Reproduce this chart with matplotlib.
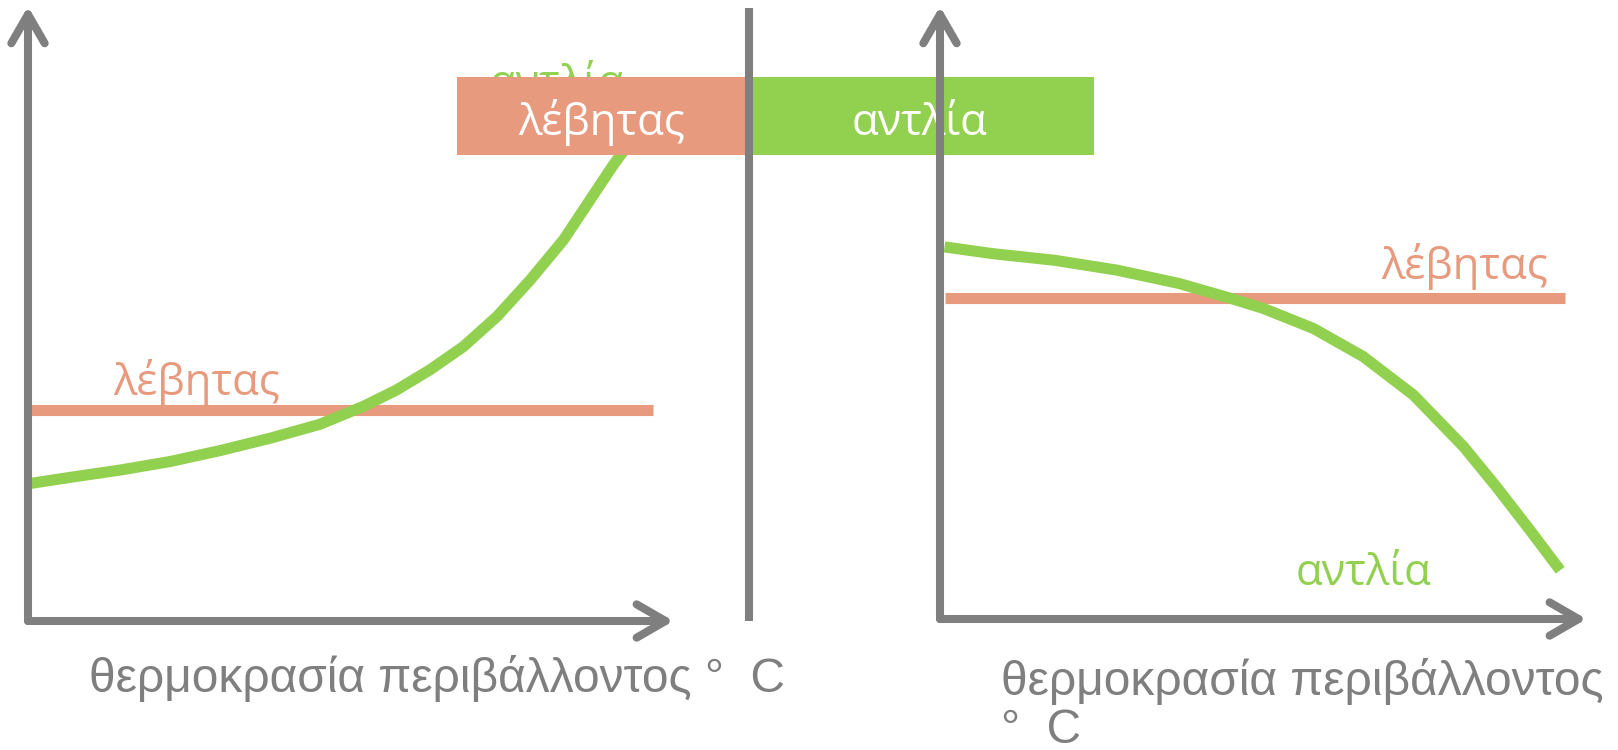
import matplotlib
matplotlib.use("Agg")
import matplotlib.pyplot as plt
from matplotlib.patches import Rectangle

# цвета
GRAY = "#7f7f7f"
ORANGE = "#e89a7e"
GREEN = "#92d050"

# левая панель: котёл постоянен, насос дорожает с температурой
left_x = [0.03, 0.65, 1.43, 2.21, 2.99, 3.76, 4.54, 5.21, 5.73, 6.25, 6.77, 7.29, 7.81,
          8.33, 8.74, 9.10, 9.31, 9.45]
left_pump = [2.25, 2.35, 2.47, 2.61, 2.79, 2.99, 3.22, 3.51, 3.78, 4.11, 4.49, 4.98, 5.58,
             6.24, 6.89, 7.46, 7.76, 8.0]
left_boiler_x = [0.0, 9.72]
left_boiler = [3.45, 3.45]

# правая панель
right_x = [0.07, 0.81, 1.78, 2.74, 3.71, 4.50, 5.02, 5.80, 6.57, 7.35, 8.13, 8.64, 9.16, 9.63]
right_pump = [6.11, 6.00, 5.89, 5.73, 5.51, 5.27, 5.10, 4.77, 4.31, 3.68, 2.83, 2.17, 1.46, 0.80]
right_boiler_x = [0.07, 9.70]
right_boiler = [5.27, 5.27]

legend_labels = ["λέβητας", "αντλία"]
xlabel = "θερμοκρασία περιβάλλοντος"
deg = "°  C"

LABEL_FONT = ["Open Sans", "DejaVu Sans"]
AXIS_FONT = ["Liberation Sans", "DejaVu Sans"]
LABEL_SIZE = 31.5
AXIS_SIZE = 34.5

W, H = 1618, 750
fig = plt.figure(figsize=(W / 100, H / 100), dpi=100)
fig.patch.set_facecolor("white")


def px_axes(x0, y0, x1, y1, z):
    # оси по пиксельным координатам (y сверху вниз)
    ax = fig.add_axes([x0 / W, 1 - y0 / H, (x1 - x0) / W, (y0 - y1) / H])
    ax.set_xlim(0, 10)
    ax.set_ylim(0, 10)
    ax.axis("off")
    ax.set_zorder(z)
    ax.patch.set_alpha(0)
    return ax


def draw_arrows(ax):
    ap = dict(arrowstyle="->,head_length=0.52,head_width=0.3", color=GRAY, lw=5.8,
              mutation_scale=40, shrinkA=0, shrinkB=0, capstyle="round", joinstyle="round")
    ax.annotate("", xy=(1.004, 0), xytext=(0, 0), xycoords="axes fraction", arrowprops=ap)
    ax.annotate("", xy=(0, 1.006), xytext=(0, 0), xycoords="axes fraction", arrowprops=ap)


def draw_lines(ax, bx, by, px, py):
    ax.plot(bx, by, color=ORANGE, lw=8, solid_capstyle="butt", clip_on=False)
    ax.plot(px, py, color=GREEN, lw=8, solid_capstyle="butt", solid_joinstyle="round",
            clip_on=False)


ax1 = px_axes(28, 621, 671, 10, 0)
draw_lines(ax1, left_boiler_x, left_boiler, left_x, left_pump)
ax1.text(2.63, 3.70, legend_labels[0], color=ORANGE, fontsize=LABEL_SIZE, family=LABEL_FONT,
         ha="center", va="baseline")
ax1.text(8.23, 8.59, legend_labels[1], color=GREEN, fontsize=LABEL_SIZE, family=LABEL_FONT,
         ha="center", va="baseline")
draw_arrows(ax1)

# легенда-плашки и разделитель
ov = fig.add_axes([0, 0, 1, 1])
ov.set_xlim(0, W)
ov.set_ylim(H, 0)
ov.axis("off")
ov.set_zorder(1)
ov.patch.set_alpha(0)
box_colors = [ORANGE, GREEN]
box_edges = [457, 746, 1094]
for i in range(2):
    ov.add_patch(Rectangle((box_edges[i], 77), box_edges[i + 1] - box_edges[i], 78,
                           facecolor=box_colors[i], edgecolor="none"))
    ov.text((box_edges[i] + box_edges[i + 1]) / 2, 135, legend_labels[i], color="white",
            fontsize=LABEL_SIZE, family=LABEL_FONT, ha="center", va="baseline")
ov.plot([749, 749], [8, 621], color=GRAY, lw=5.8, solid_capstyle="butt")

ax2 = px_axes(940, 619, 1584, 10, 2)
draw_lines(ax2, right_boiler_x, right_boiler, right_x, right_pump)
ax2.text(8.14, 5.59, legend_labels[0], color=ORANGE, fontsize=LABEL_SIZE, family=LABEL_FONT,
         ha="center", va="baseline")
ax2.text(6.57, 0.56, legend_labels[1], color=GREEN, fontsize=LABEL_SIZE, family=LABEL_FONT,
         ha="center", va="baseline")
draw_arrows(ax2)

# подписи осей
fig.text(437 / W, 1 - 692 / H, xlabel + " " + deg, color=GRAY, fontsize=AXIS_SIZE,
         family=AXIS_FONT, ha="center", va="baseline")
fig.text(1001 / W, 1 - 695 / H, xlabel, color=GRAY, fontsize=AXIS_SIZE, family=AXIS_FONT,
         ha="left", va="baseline")
fig.text(1001 / W, 1 - 743 / H, deg, color=GRAY, fontsize=AXIS_SIZE, family=AXIS_FONT,
         ha="left", va="baseline")

fig.savefig("out.png", dpi=100)
